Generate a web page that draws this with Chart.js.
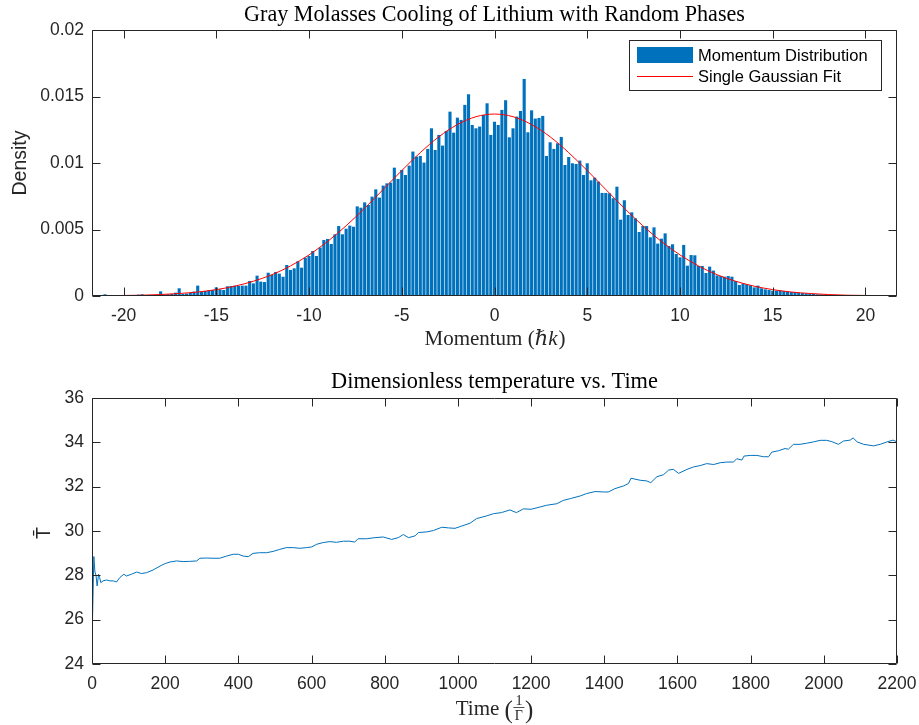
<!DOCTYPE html>
<html>
<head>
<meta charset="utf-8">
<script src="https://cdn.jsdelivr.net/npm/chart.js@4/dist/chart.umd.min.js"></script>
<style>
  html, body { margin: 0; padding: 0; background: #fff; }
  canvas { position: absolute; left: 0; }
</style>
</head>
<body>
<canvas id="c1" width="919" height="362" style="top:0px"></canvas>
<canvas id="c2" width="919" height="363" style="top:362px"></canvas>
<script>
// ---------------- DATA ----------------
// Histogram: bin centres start at -21.4, width 0.2 (momentum, units of hbar k)
const momentumStart = -21.4;
const binWidth = 0.2;
const density = [
  0, 0, 0.00013, 0, 0, 0, 0, 0, 0.00003, 0,
  0.00003, 0.0001, 0.00013, 0.00005, 0.00008, 0.00005, 0.00008, 0.00035, 0.0001, 0.00013,
  0.00015, 0.00025, 0.00058, 0.00015, 0.00018, 0.00023, 0.00033, 0.00078, 0.0003, 0.00038,
  0.00043, 0.00045, 0.00065, 0.0005, 0.00045, 0.00073, 0.00075, 0.00078, 0.00075, 0.00078,
  0.00078, 0.00113, 0.00095, 0.00153, 0.00108, 0.00105, 0.00175, 0.0016, 0.00181, 0.00168,
  0.00145, 0.00233, 0.00196, 0.00208, 0.00261, 0.00213, 0.00288, 0.00301, 0.00338, 0.00301,
  0.00364, 0.00421, 0.00429, 0.00391, 0.00464, 0.00526, 0.00464, 0.00506, 0.00529, 0.00521,
  0.00674, 0.00664, 0.00704, 0.00684, 0.00747, 0.00802, 0.0074, 0.0083, 0.00847, 0.00852,
  0.00965, 0.0088, 0.00948, 0.0091, 0.0098, 0.01086, 0.01048, 0.01053, 0.01003, 0.01106,
  0.01261, 0.01098, 0.01211, 0.01131, 0.01241, 0.01386, 0.01228, 0.01341, 0.01324, 0.01437,
  0.01517, 0.01286, 0.01261, 0.01274, 0.01361, 0.01449, 0.01211, 0.01311, 0.01286, 0.01399,
  0.01472, 0.01193, 0.01261, 0.01349, 0.01391, 0.01632, 0.01231, 0.01396, 0.01334, 0.01339,
  0.01354, 0.01053, 0.01156, 0.01106, 0.01148, 0.01196, 0.00985, 0.01045, 0.00998, 0.00993,
  0.01018, 0.0091, 0.00998, 0.0087, 0.0089, 0.0086, 0.00775, 0.00775, 0.00772, 0.00735,
  0.00822, 0.00574, 0.0072, 0.00609, 0.00629, 0.00584, 0.00481, 0.00526, 0.00526, 0.00441,
  0.00516, 0.00394, 0.00431, 0.00471, 0.00376, 0.00389, 0.00316, 0.00291, 0.00384, 0.00228,
  0.00308, 0.00306, 0.00226, 0.00226, 0.00173, 0.00221, 0.00191, 0.00155, 0.0015, 0.00145,
  0.0015, 0.00145, 0.00113, 0.00083, 0.00095, 0.00088, 0.0008, 0.00065, 0.00078, 0.00058,
  0.0005, 0.00045, 0.0004, 0.0004, 0.00042, 0.00038, 0.00035, 0.0003, 0.0003, 0.00025,
  0.00022, 0.0002, 0.00018, 0.00015, 0.00013, 0.00012, 0.0001, 0.00008, 0.00008, 0.00006,
  0.00005, 0.00004, 0.00004, 0.00003, 0.00002, 0.00002, 0.00001, 0.00001, 0, 0,
  0, 0, 0, 0, 0
];
const momentum = density.map((_, i) => +(momentumStart + i * binWidth).toFixed(1));

// Single Gaussian fit
const fitMomentum = [-22,-21,-20,-19,-18,-17,-16,-15,-14,-13,-12,-11,-10,-9,-8,-7,-6,-5,-4,-3,-2,-1,
  0,1,2,3,4,5,6,7,8,9,10,11,12,13,14,15,16,17,18,19,20,21,22];
const fitDensity = [0.00001,0.00002,0.00004,0.00006,0.00011,0.00019,0.0003,0.00048,0.00074,0.00111,0.0016,
  0.00226,0.00309,0.0041,0.00528,0.0066,0.00801,0.00943,0.01078,0.01197,0.01289,0.01348,
  0.01368,
  0.01348,0.01289,0.01197,0.01078,0.00943,0.00801,0.0066,0.00528,0.0041,0.00309,0.00226,
  0.0016,0.00111,0.00074,0.00048,0.0003,0.00019,0.00011,0.00006,0.00004,0.00002,0.00001];

const momentumTicks = [-20, -15, -10, -5, 0, 5, 10, 15, 20];
const momentumTickLabels = ['-20', '-15', '-10', '-5', '0', '5', '10', '15', '20'];
const densityTicks = [0, 0.005, 0.01, 0.015, 0.02];
const densityTickLabels = ['0', '0.005', '0.01', '0.015', '0.02'];

// Temperature vs time
const time = [
  0, 5, 8, 11, 14, 18, 21, 24, 30, 40,
  49, 58, 67, 76, 87, 94, 108, 122, 135, 149,
  167, 186, 200, 213, 231, 249, 267, 286, 295, 313,
  331, 349, 368, 386, 400, 413, 427, 440, 458, 477,
  495, 513, 531, 550, 568, 586, 600, 614, 632, 650,
  668, 687, 705, 718, 727, 750, 773, 796, 819, 837,
  851, 865, 883, 892, 915, 933, 956, 974, 992, 1006,
  1033, 1051, 1078, 1097, 1119, 1142, 1160, 1179, 1200, 1224,
  1242, 1270, 1288, 1307, 1334, 1352, 1375, 1400, 1411, 1429,
  1452, 1466, 1473, 1498, 1516, 1527, 1544, 1562, 1576, 1589,
  1603, 1626, 1644, 1662, 1680, 1699, 1717, 1735, 1753, 1762,
  1776, 1782, 1799, 1817, 1835, 1849, 1858, 1876, 1894, 1903,
  1917, 1935, 1953, 1972, 1990, 2008, 2022, 2040, 2054, 2072,
  2080, 2091, 2109, 2136, 2154, 2173, 2189, 2200
];
const temperature = [
  24.9, 28.85, 28.15, 28.0, 27.52, 28.05, 27.9, 27.67, 27.75, 27.79,
  27.75, 27.75, 27.7, 27.9, 28.05, 27.97, 28.05, 28.15, 28.08, 28.12,
  28.24, 28.42, 28.53, 28.6, 28.65, 28.62, 28.63, 28.65, 28.77, 28.78,
  28.77, 28.77, 28.87, 28.95, 28.95, 28.87, 28.84, 28.99, 29.02, 29.02,
  29.08, 29.17, 29.25, 29.25, 29.22, 29.25, 29.28, 29.4, 29.48, 29.52,
  29.49, 29.54, 29.54, 29.5, 29.65, 29.65, 29.7, 29.73, 29.62, 29.7,
  29.84, 29.7, 29.78, 29.93, 29.96, 30.02, 30.17, 30.14, 30.12, 30.2,
  30.35, 30.56, 30.68, 30.78, 30.83, 30.95, 30.83, 31.0, 30.98, 31.08,
  31.16, 31.23, 31.38, 31.46, 31.58, 31.69, 31.78, 31.76, 31.76, 31.91,
  32.03, 32.14, 32.38, 32.29, 32.26, 32.18, 32.45, 32.54, 32.75, 32.78,
  32.6, 32.78, 32.89, 32.95, 33.04, 33.0, 33.08, 33.11, 33.11, 33.26,
  33.2, 33.38, 33.41, 33.41, 33.35, 33.35, 33.56, 33.62, 33.72, 33.69,
  33.91, 33.91, 33.96, 34.02, 34.09, 34.09, 34.03, 33.91, 34.06, 34.1,
  34.2, 34.02, 33.91, 33.84, 33.91, 34.02, 34.1, 34.02
];
const timeTicks = [0, 200, 400, 600, 800, 1000, 1200, 1400, 1600, 1800, 2000, 2200];
const timeTickLabels = timeTicks.map(String);
const tempTicks = [24, 26, 28, 30, 32, 34, 36];
const tempTickLabels = tempTicks.map(String);

// ---------------- STYLE ----------------
const BLUE = '#0072BD';
const AXIS = '#262626';
const SANS = '"Liberation Sans", Arial, Helvetica, sans-serif';
const SERIF = '"Liberation Serif", "DejaVu Serif", serif';

Chart.defaults.font.family = SANS;
Chart.defaults.font.size = 17.5;
Chart.defaults.color = AXIS;
Chart.defaults.animation = false;

function fittedFont(ctx, text, family, target, weight) {
  ctx.font = (weight || '') + ' 20px ' + family;
  const w = ctx.measureText(text).width;
  return 20 * target / w;
}

const framePlugin = {
  id: 'frame',
  afterDatasetsDraw(chart) {
    const { ctx, chartArea: a, scales: { x, y } } = chart;
    ctx.save();
    ctx.strokeStyle = AXIS;
    ctx.lineWidth = 1;
    const L = Math.round(a.left) + 0.5, R = Math.round(a.right) - 0.5;
    const T = Math.round(a.top) + 0.5, B = Math.round(a.bottom) - 0.5;
    ctx.beginPath();
    ctx.rect(L, T, R - L, B - T);
    x.ticks.forEach(t => {
      const px = Math.round(x.getPixelForValue(t.value)) + 0.5;
      ctx.moveTo(px, B); ctx.lineTo(px, B - 8);
      ctx.moveTo(px, T); ctx.lineTo(px, T + 8);
    });
    y.ticks.forEach(t => {
      const py = Math.round(y.getPixelForValue(t.value)) + 0.5;
      ctx.moveTo(L, py); ctx.lineTo(L + 8, py);
      ctx.moveTo(R, py); ctx.lineTo(R - 8, py);
    });
    ctx.stroke();
    ctx.restore();
  }
};

function rotatedText(ctx, text, cx, cy, font, color) {
  ctx.save();
  ctx.translate(cx, cy);
  ctx.rotate(-Math.PI / 2);
  ctx.font = font;
  ctx.fillStyle = color;
  ctx.textAlign = 'center';
  ctx.textBaseline = 'middle';
  ctx.fillText(text, 0, 0);
  ctx.restore();
}

const topDecor = {
  id: 'topDecor',
  afterDraw(chart) {
    const { ctx, chartArea: a } = chart;
    const cx = (a.left + a.right) / 2;
    ctx.save();
    // title
    const title = 'Gray Molasses Cooling of Lithium with Random Phases';
    const fs = fittedFont(ctx, title, SERIF, 501);
    ctx.font = fs + 'px ' + SERIF;
    ctx.fillStyle = '#000';
    ctx.textAlign = 'center';
    ctx.textBaseline = 'alphabetic';
    ctx.fillText(title, cx, 20.5);
    // x label: Momentum (ℏk)
    const fx = 21;
    const p1 = 'Momentum (', p2 = 'ℏk', p3 = ')';
    ctx.font = fx + 'px ' + SERIF; const w1 = ctx.measureText(p1).width, w3 = ctx.measureText(p3).width;
    ctx.font = 'italic ' + fx + 'px ' + SERIF; const w2 = ctx.measureText(p2).width;
    let sx = cx - (w1 + w2 + w3) / 2;
    ctx.textAlign = 'left';
    ctx.fillStyle = AXIS;
    ctx.font = fx + 'px ' + SERIF; ctx.fillText(p1, sx, 345);
    ctx.font = 'italic ' + fx + 'px ' + SERIF; ctx.fillText(p2, sx + w1, 345);
    ctx.font = fx + 'px ' + SERIF; ctx.fillText(p3, sx + w1 + w2 + 1, 345);
    // y label
    rotatedText(ctx, 'Density', 21, 163, '19.5px ' + SANS, AXIS);
    // legend
    ctx.fillStyle = '#fff';
    ctx.fillRect(629.5, 40.5, 252, 50);
    ctx.strokeStyle = AXIS;
    ctx.lineWidth = 1;
    ctx.strokeRect(629.5, 40.5, 252, 50);
    ctx.fillStyle = BLUE;
    ctx.fillRect(637, 47, 56, 16);
    ctx.strokeStyle = '#FF0000';
    ctx.beginPath(); ctx.moveTo(637, 76.5); ctx.lineTo(693, 76.5); ctx.stroke();
    ctx.fillStyle = '#000';
    ctx.font = '16.5px ' + SANS;
    ctx.textBaseline = 'middle';
    ctx.fillText('Momentum Distribution', 698, 56);
    ctx.fillText('Single Gaussian Fit', 698, 77);
    ctx.restore();
  }
};

const bottomDecor = {
  id: 'bottomDecor',
  afterDraw(chart) {
    const { ctx, chartArea: a } = chart;
    const cx = (a.left + a.right) / 2;
    ctx.save();
    const title = 'Dimensionless temperature vs. Time';
    const fs = fittedFont(ctx, title, SERIF, 327);
    ctx.font = fs + 'px ' + SERIF;
    ctx.fillStyle = '#000';
    ctx.textAlign = 'center';
    ctx.textBaseline = 'alphabetic';
    ctx.fillText(title, cx, 26);
    // x label: Time (1/Γ)
    const base = 353; // baseline in canvas coords (page 715)
    ctx.fillStyle = AXIS;
    ctx.textAlign = 'left';
    ctx.font = '21px ' + SERIF; const wT = ctx.measureText('Time ').width;
    ctx.font = '25px ' + SERIF; const wP = ctx.measureText('(').width;
    ctx.font = '14px ' + SERIF; const wF = Math.max(ctx.measureText('1').width, ctx.measureText('Γ').width) + 4;
    const total = wT + wP + wF + wP;
    let sx = cx - total / 2;
    ctx.font = '21px ' + SERIF; ctx.fillText('Time ', sx, base);
    sx += wT;
    ctx.font = '25px ' + SERIF; ctx.fillText('(', sx, base + 3);
    sx += wP;
    ctx.font = '14px ' + SERIF;
    ctx.textAlign = 'center';
    ctx.fillText('1', sx + wF / 2, base - 10.5);
    ctx.fillText('Γ', sx + wF / 2, base + 5);
    ctx.strokeStyle = AXIS; ctx.lineWidth = 0.8;
    ctx.beginPath(); ctx.moveTo(sx + 0.5, base - 7.5); ctx.lineTo(sx + wF - 0.5, base - 7.5); ctx.stroke();
    sx += wF;
    ctx.textAlign = 'left';
    ctx.font = '25px ' + SERIF; ctx.fillText(')', sx, base + 3);
    // y label
    rotatedText(ctx, 'T\u0304', 45, 533 - 362, '19.5px ' + SANS, AXIS);
    ctx.restore();
  }
};

function tickSetter(values) {
  return (axis) => { axis.ticks = values.map(v => ({ value: v })); };
}
function fixX(h) {
  return (s) => { s.height = h; s.paddingLeft = 0; s.paddingRight = 0; s.paddingTop = 0; s.paddingBottom = 0; };
}
function fixY(w) {
  return (s) => { s.width = w; s.paddingLeft = 0; s.paddingRight = 0; s.paddingTop = 0; s.paddingBottom = 0; };
}

// ---------------- TOP CHART ----------------
new Chart(document.getElementById('c1'), {
  type: 'bar',
  data: {
    datasets: [
      {
        type: 'line',
        label: 'Single Gaussian Fit',
        data: fitMomentum.map((m, i) => ({ x: m, y: fitDensity[i] })),
        borderColor: '#FF0000',
        borderWidth: 1,
        pointRadius: 0,
        cubicInterpolationMode: 'monotone',
        fill: false,
        order: 1
      },
      {
        type: 'bar',
        label: 'Momentum Distribution',
        data: momentum.map((m, i) => ({ x: m, y: density[i] })),
        backgroundColor: BLUE,
        borderWidth: 0,
        barPercentage: 0.84,
        categoryPercentage: 1.0,
        order: 2
      }
    ]
  },
  options: {
    responsive: false,
    animation: false,
    events: [],
    layout: { padding: { left: 0, right: 22, top: 30, bottom: 0 } },
    plugins: { legend: { display: false }, tooltip: { enabled: false }, title: { display: false } },
    scales: {
      x: {
        type: 'linear',
        offset: false,
        min: -21.7,
        max: 21.7,
        grid: { display: false, drawTicks: false },
        border: { display: false },
        afterBuildTicks: tickSetter(momentumTicks),
        afterFit: fixX(66),
        ticks: { padding: 10, autoSkip: false, maxRotation: 0, callback: (v, i) => momentumTickLabels[i] }
      },
      y: {
        type: 'linear',
        min: 0,
        max: 0.02,
        grid: { display: false, drawTicks: false },
        border: { display: false },
        afterBuildTicks: tickSetter(densityTicks),
        afterFit: fixY(92),
        ticks: { padding: 8, autoSkip: false, callback: (v, i) => densityTickLabels[i] }
      }
    }
  },
  plugins: [framePlugin, topDecor]
});

// ---------------- BOTTOM CHART ----------------
new Chart(document.getElementById('c2'), {
  type: 'line',
  data: {
    datasets: [{
      label: 'Temperature',
      data: time.map((t, i) => ({ x: t, y: temperature[i] })),
      borderColor: BLUE,
      borderWidth: 1,
      pointRadius: 0,
      tension: 0,
      fill: false
    }]
  },
  options: {
    responsive: false,
    animation: false,
    events: [],
    layout: { padding: { left: 0, right: 22, top: 36, bottom: 0 } },
    plugins: { legend: { display: false }, tooltip: { enabled: false }, title: { display: false } },
    scales: {
      x: {
        type: 'linear',
        min: 0,
        max: 2200,
        grid: { display: false, drawTicks: false },
        border: { display: false },
        afterBuildTicks: tickSetter(timeTicks),
        afterFit: fixX(61),
        ticks: { padding: 10, autoSkip: false, maxRotation: 0, callback: (v, i) => timeTickLabels[i] }
      },
      y: {
        type: 'linear',
        min: 24,
        max: 36,
        grid: { display: false, drawTicks: false },
        border: { display: false },
        afterBuildTicks: tickSetter(tempTicks),
        afterFit: fixY(92),
        ticks: { padding: 8, autoSkip: false, callback: (v, i) => tempTickLabels[i] }
      }
    }
  },
  plugins: [framePlugin, bottomDecor]
});
</script>
</body>
</html>
